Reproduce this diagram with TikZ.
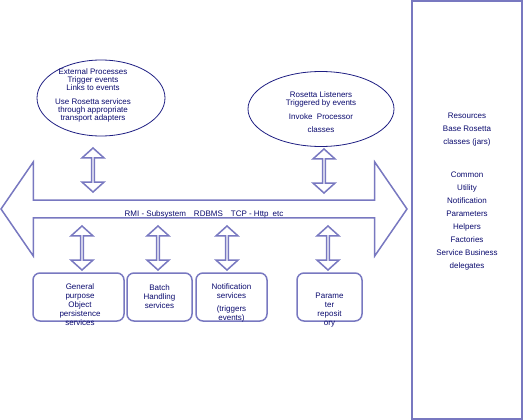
\documentclass[tikz,border=0pt]{standalone}
\usepackage{fontspec}
\setmainfont{Liberation Sans}
\usetikzlibrary{shapes.geometric,shapes.arrows,positioning}
\definecolor{linecol}{RGB}{120,120,192}
\definecolor{ovalcol}{RGB}{30,30,130}
\definecolor{txtcol}{RGB}{10,10,110}
\tikzset{
  fat/.style={draw=linecol,line width=1.5pt,shape=double arrow,inner sep=0pt},
  updown/.style={fat,rotate=90,minimum height=44pt,minimum width=22pt,
    double arrow head extend=5pt,double arrow tip angle=96},
  oval/.style={draw=ovalcol,line width=0.8pt,ellipse,inner sep=0pt,align=center},
  svc/.style={draw=linecol,line width=1.5pt,rounded corners=7pt,minimum width=#1,minimum height=48pt},
  svctext/.style={align=center,anchor=north,inner sep=0pt,font=\fontsize{8}{9}\selectfont},
}

\begin{document}
\begin{tikzpicture}[x=1pt,y=-1pt,every node/.style={text=txtcol,font=\fontsize{8}{8}\selectfont}]
  \useasboundingbox (0,0) rectangle (523,420);
  % resources panel
  \node[draw=linecol,line width=1.5pt,minimum width=110pt,minimum height=418pt] (panel) at (467,210) {};
  \node[align=center,anchor=north,inner sep=0pt,font=\fontsize{8}{13}\selectfont] (res) at (467,113)
    {Resources\\Base Rosetta\\classes (jars)\\[20pt]Common\\Utility\\Notification\\Parameters\\Helpers\\Factories\\Service Business\\delegates};
  % ellipses
  \node[oval,minimum width=128pt,minimum height=76pt] (extproc) at (101,98) {};
  \node[align=center,inner sep=0pt] (exttext) at (93,95)
    {External Processes\\Trigger events\\Links to events\\[6pt]Use Rosetta services\\through appropriate\\transport adapters};
  \node[oval,minimum width=146pt,minimum height=75pt] (listen) at (321,109) {};
  \node[align=center,inner sep=0pt] (listtext) at (321,112)
    {Rosetta Listeners\\Triggered by events\\[6pt]Invoke\ \ Processor\\[5pt]classes};
  % bus
  \node[fat,minimum height=406pt,minimum width=94pt,double arrow head extend=33.5pt,
    double arrow tip angle=111,text height=14pt,text depth=0pt] (bus) at (204,209)
    {RMI - Subsystem\quad RDBMS\quad TCP - Http\enspace etc};
  % up/down arrows
  \node[updown] (a1) at (93,170) {};
  \node[updown] (a2) at (324,171) {};
  \node[updown] (b1) at (82,248) {};
  \node[updown] (b2) at (158,248) {};
  \node[updown] (b3) at (227,248) {};
  \node[updown] (b4) at (328,248) {};
  % service boxes
  \node[svc=91pt] (persist) at (78.5,297) {};
  \node[svc=65pt] (batch) at (159.5,297) {};
  \node[svc=71pt] (notify) at (231.5,297) {};
  \node[svc=65pt] (paramrepo) at (329.5,297) {};
  \node[svctext] at (80,284) {General\\purpose\\Object\\persistence\\services};
  \node[svctext] at (159.5,285) {Batch\\Handling\\services};
  \node[svctext] at (231.5,284) {Notification\\services\\[4pt](triggers\\events)};
  \node[svctext] at (329.5,293) {Parame\\ter\\reposit\\ory};
\end{tikzpicture}
\end{document}
